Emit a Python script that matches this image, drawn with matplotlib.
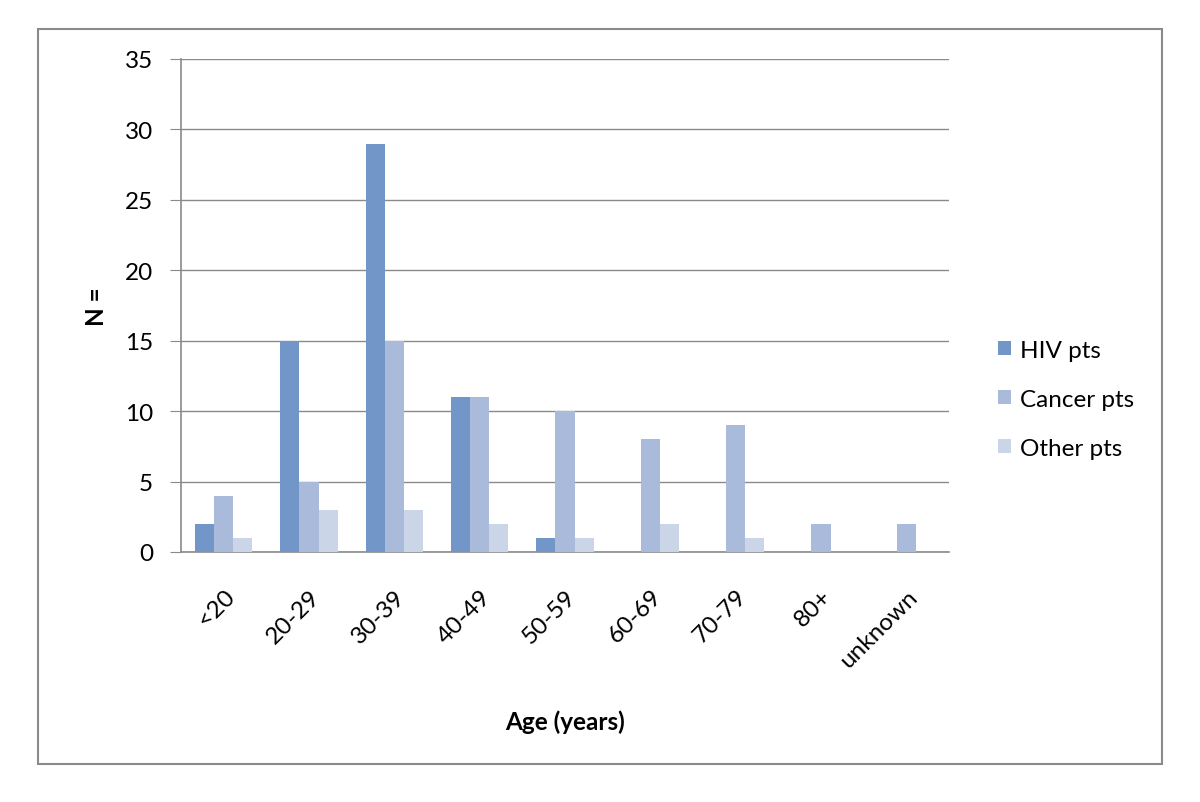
import matplotlib
matplotlib.use("Agg")
import matplotlib.pyplot as plt
import numpy as np
from matplotlib.patches import Rectangle

categories = ["<20", "20-29", "30-39", "40-49", "50-59", "60-69", "70-79", "80+", "unknown"]
hiv = [2, 15, 29, 11, 1, 0, 0, 0, 0]
cancer = [4, 5, 15, 11, 10, 8, 9, 2, 2]
other = [1, 3, 3, 2, 1, 2, 1, 0, 0]
series_names = ["HIV pts", "Cancer pts", "Other pts"]
colors = ["#7396C8", "#A9BADA", "#CBD5E8"]

plt.rcParams['font.family'] = ['Lato', 'DejaVu Sans']
FS = 17.5

fig = plt.figure(figsize=(12, 8.03), dpi=100)
W, H = 1200, 803
ax = fig.add_axes([181 / W, 1 - 553 / H, (949 - 181) / W, (553 - 60) / H])

# outer frame
fig.patches.append(Rectangle((38 / W, 1 - 765 / H), (1162 - 38) / W, (765 - 30) / H,
                             transform=fig.transFigure, fill=False, edgecolor="#8a8a8a", linewidth=1.5))

x = np.arange(len(categories))
bw = 0.223
for i, (vals, name, c) in enumerate(zip([hiv, cancer, other], series_names, colors)):
    ax.bar(x + (i - 1) * bw, vals, width=bw, color=c, label=name, zorder=3)

ax.set_xlim(-0.5, len(categories) - 0.5)
ax.set_ylim(0, 35)
ax.set_yticks(range(0, 36, 5))
ax.yaxis.grid(True, color="#8a8a8a", linewidth=1.0, zorder=0)
ax.set_axisbelow(True)
for s in ["top", "right"]:
    ax.spines[s].set_visible(False)
for s in ["left", "bottom"]:
    ax.spines[s].set_color("#8a8a8a")
    ax.spines[s].set_linewidth(1.2)
ax.tick_params(axis="y", length=8, color="#8a8a8a", labelsize=FS, pad=12)
ax.tick_params(axis="x", length=0, labelsize=FS, pad=24)
ax.set_xticks(x)
ax.set_xticklabels(categories, rotation=45, ha="right", rotation_mode="anchor")
for lbl in ax.get_xticklabels():
    lbl.set_x(lbl.get_position()[0])

ax.set_xlabel("Age (years)", fontsize=FS, fontweight="bold", labelpad=28)
ax.set_ylabel("N =", fontsize=FS, fontweight="bold", labelpad=12)

leg = ax.legend(loc="center left", bbox_to_anchor=(1.035, 0.16, 0.3, 0.3), frameon=False,
                fontsize=FS, handlelength=0.55, handleheight=0.55, labelspacing=1.15, handletextpad=0.35)

fig.savefig("out.png", dpi=100)
